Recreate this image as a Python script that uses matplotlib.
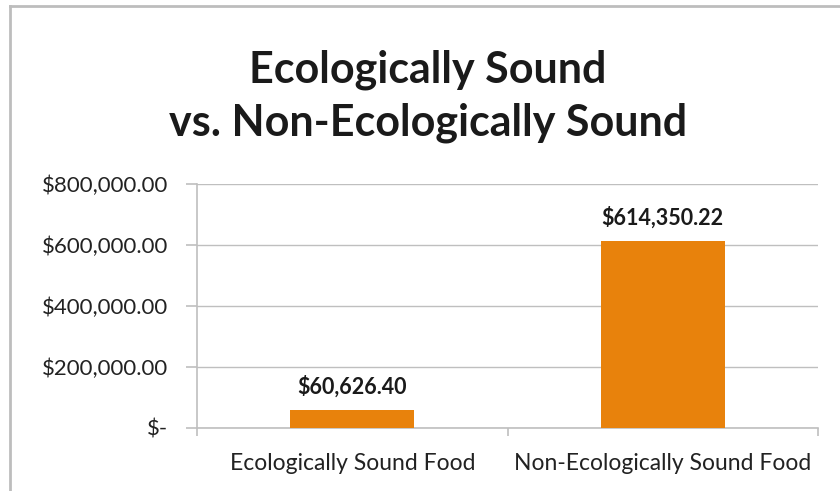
import matplotlib
matplotlib.use("Agg")
import matplotlib.pyplot as plt
from matplotlib.ticker import FuncFormatter
from matplotlib.lines import Line2D

# Valores del gráfico
categorias = ["Ecologically Sound Food", "Non-Ecologically Sound Food"]
montos = [60626.40, 614350.22]
ticks_y = [0, 200000, 400000, 600000, 800000]

color_barra = "#E8820C"
color_gris = "#BFBFBF"

plt.rcParams['font.family'] = ['Lato', 'DejaVu Sans']

fig = plt.figure(figsize=(8.4, 4.91), dpi=100)
ax = fig.add_axes([197 / 840, 1 - 428 / 491, (818 - 197) / 840, (428 - 184) / 491])

x = range(len(categorias))
ax.bar(x, montos, width=0.4, color=color_barra, zorder=3)

# Etiquetas de valor sobre cada barra
for xi, v in zip(x, montos):
    ax.text(xi, v + 38000, f"${v:,.2f}", ha='center', va='bottom',
            fontsize=15.5, fontweight='bold', color='#1a1a1a')

# Formato contable de Excel: el cero se muestra como "$-"
def formato_moneda(v, pos):
    if v == 0:
        return "$-"
    return f"${v:,.2f}"

ax.set_ylim(0, 800000)
ax.set_yticks(ticks_y)
ax.yaxis.set_major_formatter(FuncFormatter(formato_moneda))
ax.set_xlim(-0.5, 1.5)
ax.set_xticks(x)
ax.set_xticklabels(categorias)
ax.xaxis.set_minor_locator(plt.FixedLocator([-0.5, 0.5, 1.5]))

ax.grid(axis='y', color=color_gris, linewidth=1, zorder=0)
for lado in ['top', 'right']:
    ax.spines[lado].set_visible(False)
for lado in ['left', 'bottom']:
    ax.spines[lado].set_color(color_gris)
    ax.spines[lado].set_linewidth(1.2)

ax.tick_params(axis='y', which='major', length=8, color=color_gris, width=1.2,
               labelsize=16, labelcolor='#222222', pad=13)
ax.tick_params(axis='x', which='major', length=0, labelsize=16.5,
               labelcolor='#222222', pad=18)
ax.tick_params(axis='x', which='minor', length=6, color=color_gris, width=1.2)

# Título en dos líneas
fig.text(428 / 840, 1 - 96 / 491, "Ecologically Sound\nvs. Non-Ecologically Sound",
         ha='center', va='center', fontsize=31, fontweight='bold',
         color='#1a1a1a', linespacing=1.38)

# Marco del área del gráfico (borde superior e izquierdo)
fig.add_artist(Line2D([9.5 / 840, 9.5 / 840], [0, 1 - 5.5 / 491],
                      transform=fig.transFigure, color='#BDBDBD', linewidth=2))
fig.add_artist(Line2D([9.5 / 840, 1], [1 - 5.5 / 491, 1 - 5.5 / 491],
                      transform=fig.transFigure, color='#BDBDBD', linewidth=2))

fig.savefig("out.png", dpi=100, facecolor='white')
